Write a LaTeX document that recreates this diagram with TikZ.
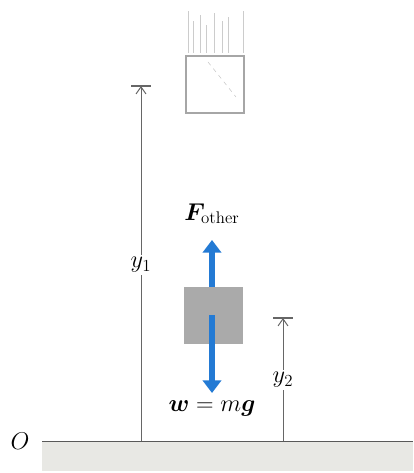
\documentclass[tikz,border=0pt]{standalone}
\usepackage{amsmath}
\usepackage{bm}
\usepackage{tikz}
\usetikzlibrary{arrows.meta}
\definecolor{forceblue}{RGB}{35,122,212}
\definecolor{blockgray}{RGB}{170,170,170}
\definecolor{groundgray}{RGB}{232,232,228}

\begin{document}
\begin{tikzpicture}[x=1cm,y=1cm,line width=.35pt,font=\LARGE,
  dimline/.style={line width=.7pt,gray!80!black,-{Straight Barb[length=5pt,width=7pt]}},
  dimbar/.style={line width=.9pt,gray!80!black},
  force/.style={forceblue,line width=4pt,-{Triangle[length=9pt,width=13pt]}},
  faint/.style={gray!40,line width=.4pt}]
\useasboundingbox (0,0) rectangle (10.325,11.825);
% ground
\fill[groundgray] (1.05,0.06) rectangle (10.325,0.78);
\coordinate (gl) at (1.05,0.8);
\coordinate (gr) at (10.325,0.8);
\draw[line width=.7pt,gray!70!black] (gl)--(gr);
\node[inner sep=1pt] (O) at (0.5,0.8) {$O$};
% earlier position of the body
\node[draw=gray!70,line width=.8pt,minimum width=1.45cm,minimum height=1.425cm,inner sep=0pt] (ghost) at (5.375,9.7125) {};
\draw[faint] (4.7,10.5)--(4.7,11.55);
\draw[faint] (4.83,10.5)--(4.83,11.3);
\draw[faint] (5.0,10.5)--(5.0,11.45);
\draw[faint] (5.15,10.5)--(5.15,11.2);
\draw[faint] (5.35,10.5)--(5.35,11.5);
\draw[faint] (5.55,10.5)--(5.55,11.3);
\draw[faint] (5.7,10.5)--(5.7,11.4);
\draw[faint] (6.07,10.5)--(6.07,11.55);
\draw[faint,dashed] (5.2,10.275)--(5.9,9.4);
% body at y2
\node[fill=blockgray,minimum width=1.475cm,minimum height=1.425cm,inner sep=0pt] (block) at (5.3375,3.9375) {};
\coordinate (Ftip) at (5.3,5.825);
\coordinate (wtip) at (5.3,2.0);
\draw[force] (block.north -| Ftip)--(Ftip);
\draw[force] (block.center -| wtip)--(wtip);
\node[anchor=south,inner sep=2pt] (Flab) at (5.3,6.15) {$\bm{F}_{\text{other}}$};
\node[inner sep=1pt] (wlab) at (5.3,1.625) {$\bm{w}=m\bm{g}$};
% heights
\coordinate (y1b) at (3.525,0.8);
\coordinate (y1t) at (3.525,9.675);
\draw[dimline] (y1b)--(y1t);
\draw[dimbar] (3.275,9.675)--(3.775,9.675);
\node[fill=white,inner sep=2pt] (y1) at (3.525,5.2) {$y_1$};
\coordinate (y2b) at (7.075,0.8);
\coordinate (y2t) at (7.075,3.875);
\draw[dimline] (y2b)--(y2t);
\draw[dimbar] (6.825,3.875)--(7.325,3.875);
\node[fill=white,inner sep=2pt] (y2) at (7.075,2.325) {$y_2$};
\end{tikzpicture}
\end{document}
